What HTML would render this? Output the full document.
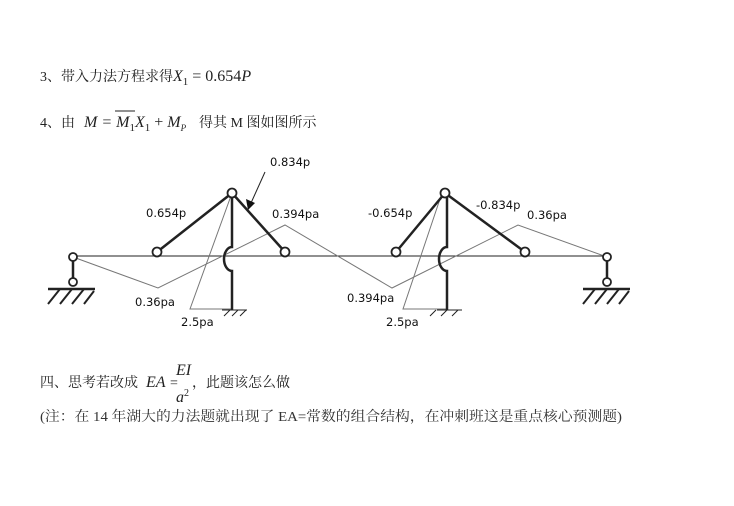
<!DOCTYPE html>
<html><head><meta charset="utf-8"><style>
html,body{margin:0;padding:0;background:#fff;}
svg{display:block}
.t{font-family:"Liberation Serif","Noto Serif CJK SC",serif;font-size:14px;fill:#222}
.m{font-family:"Liberation Serif",serif;font-style:italic;font-size:16px;fill:#222}
.l{font-family:"DejaVu Sans","Liberation Sans",sans-serif;font-size:11.5px;fill:#111}
</style></head><body>
<svg width="734" height="506" viewBox="0 0 734 506" xmlns="http://www.w3.org/2000/svg">
<text class="t" x="40" y="81">3、带入力法方程求得</text>
<text class="m" x="173" y="81" font-size="17">X<tspan font-size="11" dy="4" font-style="normal">1</tspan><tspan dy="-4" font-style="normal"> = 0.654</tspan>P</text>
<text class="t" x="40" y="127">4、由</text>
<text class="m" x="84" y="127">M = M<tspan font-size="11" dy="4" font-style="normal">1</tspan><tspan dy="-4">X</tspan><tspan font-size="11" dy="4" font-style="normal">1</tspan><tspan dy="-4" font-style="normal"> + </tspan>M<tspan font-size="9" dy="4">P</tspan></text>
<line x1="115" y1="111" x2="135" y2="111" stroke="#222" stroke-width="1"/>
<text class="t" x="199" y="127">得其 M 图如图所示</text>

<g stroke="#222" fill="none">
<line x1="73" y1="256" x2="607" y2="256" stroke-width="1"/>
<polyline points="73,257 158,288 285,225 392,288 518,225 607,257" stroke="#777" stroke-width="1"/>
<polyline points="232,193 190,309 232,309" stroke="#777" stroke-width="1"/>
<polyline points="442,193 403,309 447,309" stroke="#777" stroke-width="1"/>
<line x1="157" y1="252" x2="232" y2="193" stroke-width="2.5"/>
<line x1="285" y1="252" x2="232" y2="193" stroke-width="2.5"/>
<path d="M232,193 V247 A8,12 0 0 0 232,271 V310" stroke-width="2.5"/>
<line x1="222" y1="310" x2="247" y2="310" stroke-width="1"/>
<path d="M224,316 l6,-6 M232,316 l6,-6 M240,316 l6,-6" stroke-width="1"/>
<line x1="396" y1="252" x2="445" y2="193" stroke-width="2.5"/>
<line x1="525" y1="252" x2="445" y2="193" stroke-width="2.5"/>
<path d="M447,193 V247 A8,12 0 0 0 447,271 V310" stroke-width="2.5"/>
<line x1="437" y1="310" x2="462" y2="310" stroke-width="1"/>
<path d="M430,316 l6,-6 M441,316 l6,-6 M452,316 l6,-6" stroke-width="1"/>
<line x1="73" y1="257" x2="73" y2="282" stroke-width="2.5"/>
<line x1="48" y1="289" x2="95" y2="289" stroke-width="2.5"/>
<path d="M48,304 l12,-15 M60,304 l12,-15 M72,304 l12,-15 M84,304 l10,-13" stroke-width="2"/>
<line x1="607" y1="257" x2="607" y2="282" stroke-width="2.5"/>
<line x1="583" y1="289" x2="630" y2="289" stroke-width="2.5"/>
<path d="M583,304 l12,-15 M595,304 l12,-15 M607,304 l12,-15 M619,304 l10,-13" stroke-width="2"/>
<line x1="265" y1="172" x2="251" y2="203" stroke-width="1"/>
</g>
<polygon points="248,210 246,199 255,203" fill="#111"/>
<g fill="#fff" stroke="#222" stroke-width="1.8">
<circle cx="232" cy="193" r="4.5"/><circle cx="157" cy="252" r="4.5"/><circle cx="285" cy="252" r="4.5"/>
<circle cx="445" cy="193" r="4.5"/><circle cx="396" cy="252" r="4.5"/><circle cx="525" cy="252" r="4.5"/>
<circle cx="73" cy="257" r="4"/><circle cx="73" cy="282" r="4"/>
<circle cx="607" cy="257" r="4"/><circle cx="607" cy="282" r="4"/>
</g>
<text class="l" x="270" y="166">0.834p</text>
<text class="l" x="146" y="217">0.654p</text>
<text class="l" x="272" y="218">0.394pa</text>
<text class="l" x="135" y="306">0.36pa</text>
<text class="l" x="181" y="326">2.5pa</text>
<text class="l" x="368" y="217">-0.654p</text>
<text class="l" x="476" y="209">-0.834p</text>
<text class="l" x="527" y="219">0.36pa</text>
<text class="l" x="347" y="302">0.394pa</text>
<text class="l" x="386" y="326">2.5pa</text>

<text class="t" x="40" y="387">四、思考若改成</text>
<text class="m" x="146" y="387" font-size="15">EA</text>
<text class="t" x="170" y="387">=</text>
<text class="m" x="176" y="375" font-size="15">EI</text>
<text class="m" x="176" y="402" font-size="15">a<tspan font-size="10" dy="-6" font-style="normal">2</tspan></text>
<text class="t" x="192" y="387">，此题该怎么做</text>
<text class="t" x="40" y="421" style="fill:#333" textLength="582" lengthAdjust="spacingAndGlyphs">(注：在 14 年湖大的力法题就出现了 EA=常数的组合结构，在冲刺班这是重点核心预测题)</text>
</svg>
</body></html>
